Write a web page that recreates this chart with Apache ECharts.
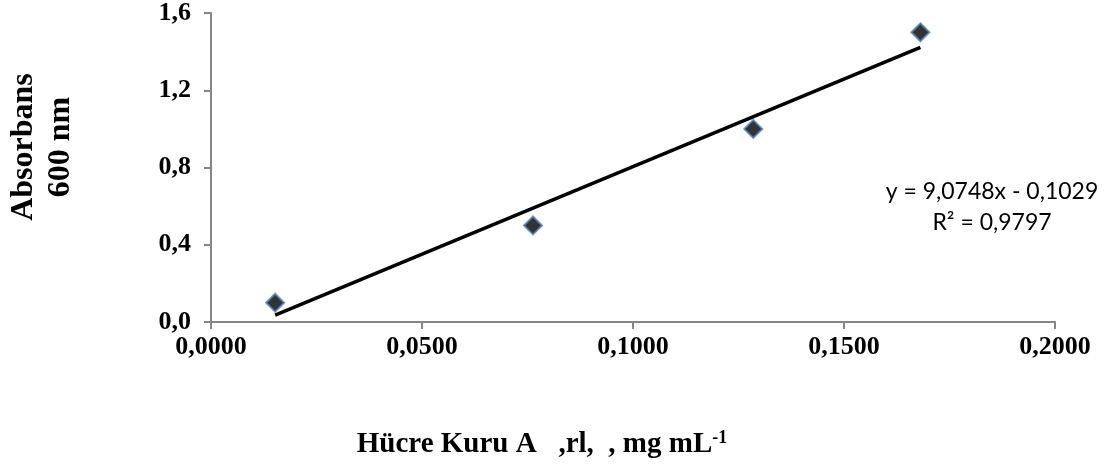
<!DOCTYPE html>
<html>
<head>
<meta charset="utf-8">
<script src="https://cdn.jsdelivr.net/npm/echarts@6/dist/echarts.min.js"></script>
<style>
  html, body { margin: 0; padding: 0; background: #fff; }
  #chart { width: 1110px; height: 468px; }
</style>
</head>
<body>
<div id="chart"></div>
<script>
  // data
  const cellDryWeight = [0.0152, 0.0763, 0.1285, 0.1681]   // mg mL-1
  const absorbance = [0.1, 0.5, 1.0, 1.5]
  const xTicks = [0, 0.05, 0.1, 0.15, 0.2]
  const yTicks = [0, 0.4, 0.8, 1.2, 1.6]
  // trend line from the equation shown on the chart
  const slope = 9.0748
  const intercept = -0.1029
  const equationText = 'y = 9,0748x - 0,1029'
  const r2Text = 'R² = 0,9797'

  const points = cellDryWeight.map((x, i) => [x, absorbance[i]])
  const xMin = Math.min(...cellDryWeight)
  const xMax = Math.max(...cellDryWeight)
  const trend = [[xMin, slope * xMin + intercept], [xMax, slope * xMax + intercept]]

  const axisGrey = '#868686'
  const serif = '"Liberation Serif", "DejaVu Serif", serif'

  const chartDom = document.getElementById('chart')
  const myChart = echarts.init(chartDom)
  let option = {
    backgroundColor: '#fff',
    animation: false,
    grid: { left: 211, right: 55, top: 13, bottom: 146 },
    xAxis: {
      type: 'value',
      min: xTicks[0],
      max: xTicks[xTicks.length - 1],
      interval: 0.05,
      splitLine: { show: false },
      axisLine: { onZero: false, lineStyle: { color: axisGrey, width: 2 } },
      axisTick: { show: true, length: 7, lineStyle: { color: axisGrey, width: 2 } },
      axisLabel: {
        margin: 12,
        color: '#000',
        fontFamily: serif,
        fontWeight: 'bold',
        fontSize: 26,
        formatter: v => v.toFixed(4).replace('.', ',')
      }
    },
    yAxis: {
      type: 'value',
      min: yTicks[0],
      max: yTicks[yTicks.length - 1],
      interval: 0.4,
      splitLine: { show: false },
      axisLine: { show: true, lineStyle: { color: axisGrey, width: 2 } },
      axisTick: { show: true, length: 7, lineStyle: { color: axisGrey, width: 2 } },
      axisLabel: {
        margin: 20,
        color: '#000',
        fontFamily: serif,
        fontWeight: 'bold',
        fontSize: 26,
        formatter: v => v.toFixed(1).replace('.', ',')
      }
    },
    graphic: [
      {
        type: 'text',
        x: 42,
        y: 147,
        rotation: Math.PI / 2,
        style: {
          text: 'Absorbans\n600 nm',
          fill: '#000',
          font: 'bold 32px ' + serif,
          lineHeight: 37,
          textAlign: 'center',
          textVerticalAlign: 'middle'
        }
      },
      {
        type: 'text',
        x: 542,
        y: 444,
        style: {
          text: '{m|Hücre Kuru A   ,rl,  , mg mL}{s|-1}',
          textAlign: 'center',
          textVerticalAlign: 'middle',
          rich: {
            m: { fill: '#000', fontFamily: serif, fontWeight: 'bold', fontSize: 29, verticalAlign: 'bottom' },
            s: { fill: '#000', fontFamily: serif, fontWeight: 'bold', fontSize: 18, verticalAlign: 'top', padding: [0, 0, 12, 0] }
          }
        }
      },
      {
        type: 'text',
        x: 992,
        y: 207,
        style: {
          text: equationText + '\n' + r2Text,
          fill: '#000',
          font: '23px Lato, "Open Sans", sans-serif',
          lineHeight: 31,
          textAlign: 'center',
          textVerticalAlign: 'middle'
        }
      }
    ],
    series: [
      {
        name: 'trend',
        type: 'line',
        data: trend,
        symbol: 'none',
        lineStyle: { color: '#000', width: 3.5 },
        z: 2
      },
      {
        name: 'Absorbans',
        type: 'scatter',
        data: points,
        symbol: 'diamond',
        symbolSize: 18,
        itemStyle: { color: '#000', borderColor: '#4F81BD', borderWidth: 2 },
        z: 3
      }
    ]
  }
  option && myChart.setOption(option)
</script>
</body>
</html>
